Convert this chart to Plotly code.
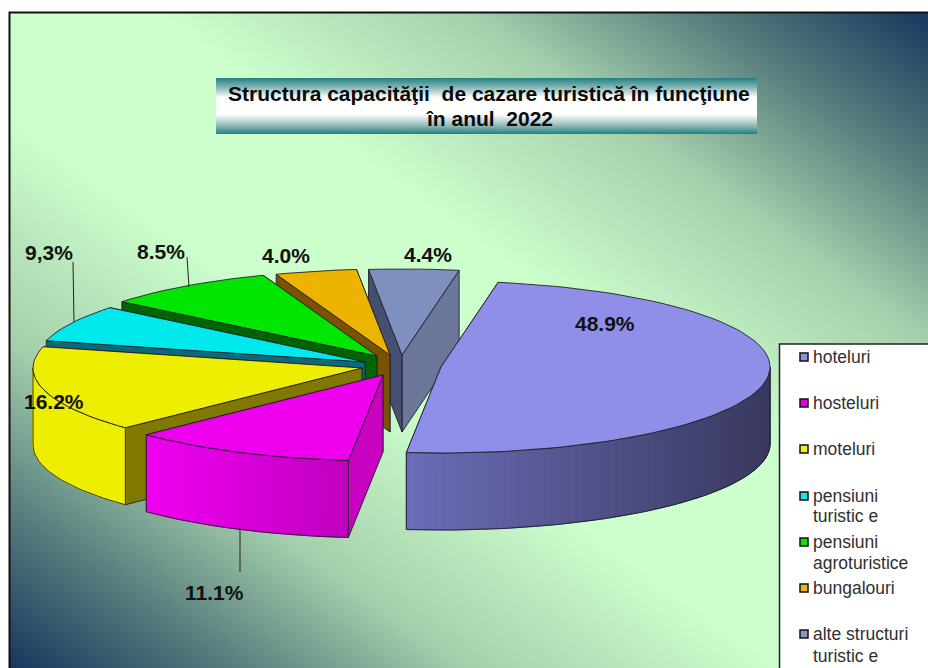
import math
from urllib.parse import quote
import plotly.graph_objects as go

# ---------- data ----------
categories = ["hoteluri", "hosteluri", "moteluri", "pensiuni turistice",
              "pensiuni agroturistice", "bungalouri", "alte structuri turistice"]
values = [48.9, 11.1, 16.2, 6.9, 8.5, 4.0, 4.4]      # slice sizes as drawn
point_labels = ["48.9%", "11.1%", "16.2%", "9,3%", "8.5%", "4.0%", "4.4%"]  # labels as printed
legend_lines = [["hoteluri"], ["hosteluri"], ["moteluri"], ["pensiuni", "turistic e"],
                ["pensiuni", "agroturistice"], ["bungalouri"], ["alte structuri", "turistic e"]]
title_lines = ["Structura capacităţii  de cazare turistică în funcţiune", "în anul  2022"]

# ---------- style / layout ----------
W, H = 928, 668
RX, RY, DEPTH = 329, 86, 77
START_DEG = 10
apex = [(441, 367), (383, 375), (362, 368), (365, 362), (377, 356), (390, 355), (402, 355)]
top_col = ["#8f8fe9", "#ee00ee", "#eeee00", "#00eaee", "#00e600", "#ecb400", "#7f8fbf"]
wall_start = ["#6a6ab0", "#c800c0", "#807800", "#0a6a7a", "#006400", "#7a5200", "#454f70"]
wall_end = ["#6a6ab0", "#c800c0", "#807800", "#0a6a7a", "#006400", "#7a5200", "#6b7799"]
curve_col = [("#6c6cb8", "#38385e"), ("#f000f0", "#c000c0"), ("#eeee00", "#eeee00"),
             ("#0a6a7a", "#0a6a7a"), ("#006400", "#006400"), ("#7a5200", "#7a5200"),
             ("#6b7799", "#6b7799")]
legend_fill = ["#9090e0", "#e000e0", "#eeee20", "#20e0e0", "#10e010", "#ecb420", "#8a94c0"]
legend_y = [[357], [403], [449], [496, 516], [542, 563], [588], [634, 656]]
label_pos = [(605, 323), (214, 592), (54, 401), (49, 252), (161, 251), (286, 255), (428, 254)]
leaders = [((240, 529), (240, 572)), ((73, 262), (74, 322)), ((187, 257), (189, 287))]
OUT = "#20202a"
FONT = "Liberation Sans"


def svg_uri(svg):
    return "data:image/svg+xml," + quote(svg)


bg_svg = ('<svg xmlns="http://www.w3.org/2000/svg" width="919" height="656" preserveAspectRatio="none">'
          '<defs><linearGradient id="g" x1="0" y1="1" x2="1" y2="0">'
          '<stop offset="0" stop-color="#17375e"/><stop offset=".12" stop-color="#557b7c"/>'
          '<stop offset=".25" stop-color="#a5cfac"/><stop offset=".42" stop-color="#ccffcc"/>'
          '<stop offset=".58" stop-color="#ccffcc"/><stop offset=".75" stop-color="#a5cfac"/>'
          '<stop offset=".88" stop-color="#557b7c"/><stop offset="1" stop-color="#17375e"/>'
          '</linearGradient></defs><rect width="919" height="656" fill="url(#g)"/></svg>')
title_svg = ('<svg xmlns="http://www.w3.org/2000/svg" width="541" height="56" preserveAspectRatio="none">'
             '<defs><linearGradient id="t" x1="0" y1="0" x2="0" y2="1">'
             '<stop offset="0" stop-color="#1f8080"/><stop offset=".18" stop-color="#8fbaba"/>'
             '<stop offset=".35" stop-color="#ffffff"/><stop offset=".65" stop-color="#ffffff"/>'
             '<stop offset=".85" stop-color="#8fbaba"/><stop offset="1" stop-color="#1f8080"/>'
             '</linearGradient></defs><rect width="541" height="56" fill="url(#t)"/></svg>')


def hex_lerp(a, b, t):
    ca = [int(a[i:i + 2], 16) for i in (1, 3, 5)]
    cb = [int(b[i:i + 2], 16) for i in (1, 3, 5)]
    return "#%02x%02x%02x" % tuple(round(p + (q - p) * t) for p, q in zip(ca, cb))


def rim(center, deg):
    r = math.radians(deg)
    return center[0] + RX * math.sin(r), center[1] - RY * math.cos(r)


fig = go.Figure()


def poly(xs, ys, fill, line=OUT, width=0.9):
    fig.add_trace(go.Scatter(x=list(xs) + [xs[0]], y=list(ys) + [ys[0]], mode="lines", fill="toself",
                             fillcolor=fill, line=dict(color=line, width=width), hoverinfo="skip",
                             showlegend=False))


# cumulative slice angles from the values
total = sum(values)
bounds = [START_DEG]
for v in values:
    bounds.append(bounds[-1] + v / total * 360)

# painter's order: back slices first, then the big slice
for i in [6, 5, 4, 3, 2, 1, 0]:
    a0, a1, c = bounds[i], bounds[i + 1], apex[i]
    for ang, col in ((a1, wall_end[i]), (a0, wall_start[i])):
        px, py = rim(c, ang)
        poly([c[0], px, px, c[0]], [c[1], py, py + DEPTH, c[1] + DEPTH], col)
    lo, hi = max(a0, 90), min(a1, 270)
    if hi > lo:
        n = max(4, int((hi - lo) / 1.5))
        pts = [lo + (hi - lo) * k / n for k in range(n + 1)]
        xs_all = [rim(c, p)[0] for p in pts]
        x_min, x_max = min(xs_all), max(xs_all)
        for k in range(n):
            p, q = rim(c, pts[k]), rim(c, pts[k + 1])
            t = ((p[0] + q[0]) / 2 - x_min) / max(1, x_max - x_min)
            col = hex_lerp(curve_col[i][0], curve_col[i][1], t)
            poly([p[0], q[0], q[0], p[0]], [p[1], q[1], q[1] + DEPTH, p[1] + DEPTH], col, line=col, width=1)
        top = [rim(c, p) for p in pts]
        ox = [t[0] for t in top] + [t[0] for t in reversed(top)]
        oy = [t[1] for t in top] + [t[1] + DEPTH for t in reversed(top)]
        fig.add_trace(go.Scatter(x=ox + [ox[0]], y=oy + [oy[0]], mode="lines", hoverinfo="skip",
                                 showlegend=False, line=dict(color=OUT, width=0.9)))
    n = max(6, int((a1 - a0) / 2))
    arc = [rim(c, a0 + (a1 - a0) * k / n) for k in range(n + 1)]
    poly([c[0]] + [p[0] for p in arc], [c[1]] + [p[1] for p in arc], top_col[i])

# leader lines
for (p, q) in leaders:
    fig.add_trace(go.Scatter(x=[p[0], q[0]], y=[p[1], q[1]], mode="lines", hoverinfo="skip",
                             showlegend=False, line=dict(color="#222222", width=1)))

annotations = []
for txt, (x, y) in zip(point_labels, label_pos):
    annotations.append(dict(x=x, y=y, text=txt, showarrow=False, xanchor="center", yanchor="middle",
                            font=dict(family=FONT, size=21, color="#111111", weight="bold")))
for txt, y in zip(title_lines, (93, 118)):
    annotations.append(dict(x=489, y=y, text=txt, showarrow=False, xanchor="center", yanchor="middle",
                            font=dict(family=FONT, size=21, color="#0a0a0a", weight="bold")))

# frame and legend box
shapes = [
    dict(type="rect", x0=9.5, y0=12.5, x1=W + 5, y1=H + 5, line=dict(color="#111111", width=2),
         fillcolor="rgba(0,0,0,0)", layer="between"),
    dict(type="rect", x0=779.5, y0=344, x1=W + 5, y1=H + 5, line=dict(color="#222222", width=1.5),
         fillcolor="#ffffff", layer="between"),
]
sq_y = []
for i, (lines, ys) in enumerate(zip(legend_lines, legend_y)):
    sq_y.append(ys[0])
    for ln, y in zip(lines, ys):
        annotations.append(dict(x=811, y=y, text=ln, showarrow=False, xanchor="left", yanchor="middle",
                                font=dict(family=FONT, size=17.5, color="#303030")))
for i, name in enumerate(categories):
    fig.add_trace(go.Scatter(x=[804], y=[sq_y[i]], mode="markers", name=name, showlegend=False, hoverinfo="skip",
                             marker=dict(symbol="square", size=8, color=legend_fill[i],
                                         line=dict(color="#111111", width=1.5))))

fig.update_layout(
    width=W, height=H, margin=dict(l=0, r=0, t=0, b=0), paper_bgcolor="#ffffff", plot_bgcolor="rgba(0,0,0,0)",
    showlegend=False,
    xaxis=dict(range=[0, W], visible=False, fixedrange=True),
    yaxis=dict(range=[H, 0], visible=False, fixedrange=True),
    annotations=annotations, shapes=shapes,
    images=[
        dict(source=svg_uri(bg_svg), xref="x", yref="y", x=9, y=12, sizex=919, sizey=656, sizing="stretch",
             xanchor="left", yanchor="top", layer="below"),
        dict(source=svg_uri(title_svg), xref="x", yref="y", x=216, y=78, sizex=541, sizey=56, sizing="stretch",
             xanchor="left", yanchor="top", layer="below"),
    ],
)
fig.write_html("out.html", config=dict(displayModeBar=False),
               post_script="document.body.style.margin='0';document.body.style.overflow='hidden';")
